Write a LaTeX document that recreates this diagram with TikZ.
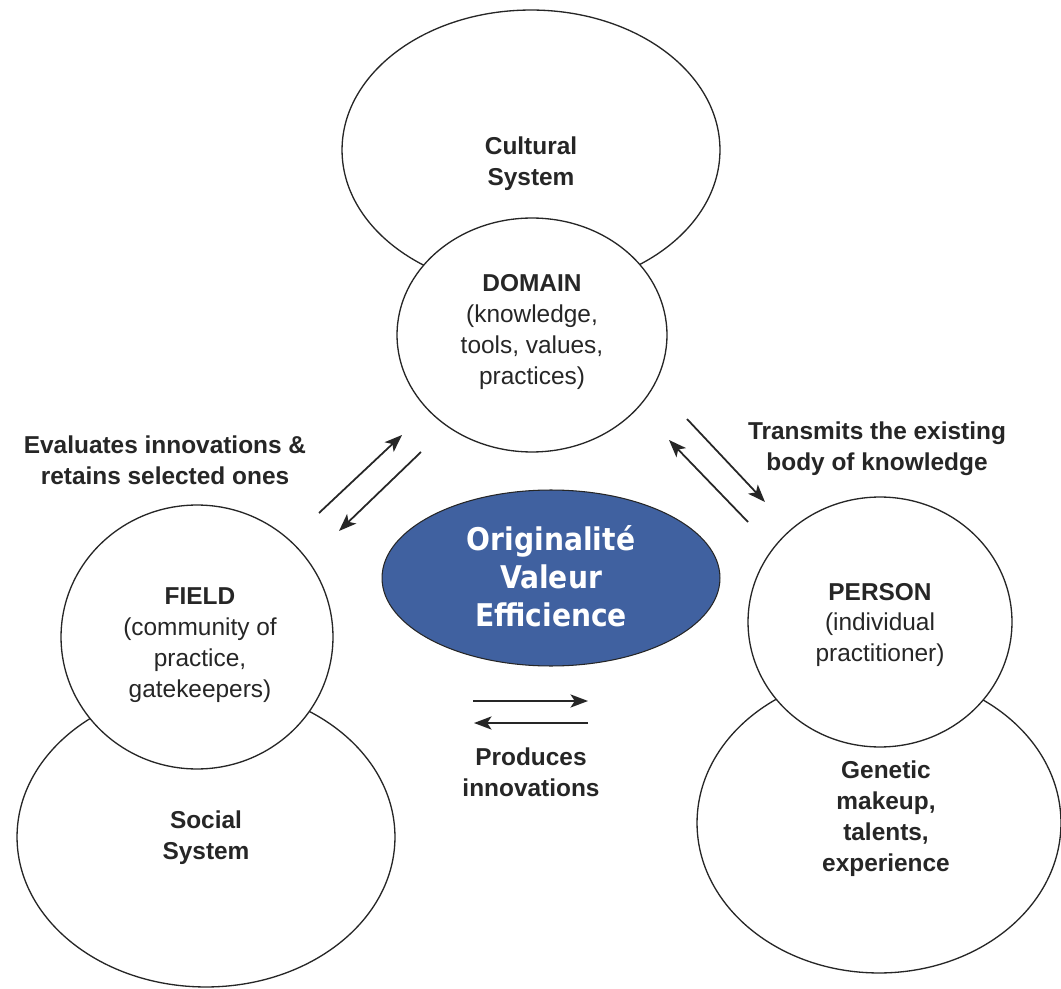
\documentclass[tikz,border=0pt]{standalone}
\usepackage{fontspec}
\setmainfont{Liberation Sans}
\newfontfamily\centerfont[FakeStretch=0.9]{DejaVu Sans}
\usetikzlibrary{shapes.geometric,arrows.meta}
\definecolor{centerblue}{RGB}{64,97,160}
\definecolor{inkgray}{RGB}{38,38,38}
\begin{document}
\begin{tikzpicture}[x=0.02cm,y=-0.02cm,
  sysell/.style={ellipse, draw=inkgray, line width=0.75pt, fill=white, inner sep=0pt},
  txt/.style={align=center, text=inkgray, font=\fontsize{13.9}{17.6}\selectfont, inner sep=0pt},
  btxt/.style={align=center, text=inkgray, font=\fontsize{13.9}{17.6}\selectfont\bfseries, inner sep=0pt},
  flow/.style={draw=inkgray, line width=1pt, -{Stealth[length=10pt,width=7.5pt,inset=2.5pt]}}]
\useasboundingbox (0,0) rectangle (1061,989);
\fill[white] (0,0) rectangle (1061,989);

% outer systems
\node[sysell, minimum width=7.56cm, minimum height=5.6cm] (cultural) at (531,150) {};
\node[sysell, minimum width=7.56cm, minimum height=6.0cm] (social) at (206,837) {};
\node[sysell, minimum width=7.28cm, minimum height=6.0cm] (genetic) at (879,823) {};

% inner circles
\node[sysell, minimum width=5.4cm, minimum height=4.68cm] (domain) at (532,335) {};
\node[sysell, minimum width=5.44cm, minimum height=5.28cm] (field) at (197,637) {};
\node[sysell, minimum width=5.28cm, minimum height=5.0cm] (person) at (880,622) {};

% central ellipse
\node[ellipse, draw=inkgray, line width=0.6pt, fill=centerblue, inner sep=0pt,
      minimum width=6.76cm, minimum height=3.52cm] (center) at (551,578) {};
\node[align=center, text=white, inner sep=0pt,
      font=\centerfont\fontsize{17.8}{21.5}\selectfont\bfseries] (centertxt) at (551,576)
      {Originalité\\Valeur\\Efficience};

% texts
\node[btxt] (culturaltxt) at (531,164) {Cultural\\System};
\node[txt] (domaintxt) at (532,332) {\textbf{DOMAIN}\\(knowledge,\\tools, values,\\practices)};
\node[txt] (fieldtxt) at (200,645) {\textbf{FIELD}\\(community of\\practice,\\gatekeepers)};
\node[btxt] (socialtxt) at (206,838) {Social\\System};
\node[txt] (persontxt) at (880,625) {\textbf{PERSON}\\(individual\\practitioner)};
\node[btxt] (genetictxt) at (886,819) {Genetic\\makeup,\\talents,\\experience};

\node[btxt] (evaltxt) at (165,460) {Evaluates innovations \&\\retains selected ones};
\node[btxt] (transtxt) at (877,449) {Transmits the existing\\body of knowledge};
\node[btxt] (prodtxt) at (531,772) {Produces\\innovations};

% arrow end points
\coordinate (fd1) at (319,513);
\coordinate (fd2) at (402,435);
\coordinate (df1) at (421,452);
\coordinate (df2) at (339,531);
\coordinate (dp1) at (687,419);
\coordinate (dp2) at (765,502);
\coordinate (pd1) at (748,522);
\coordinate (pd2) at (669,440);
\coordinate (pf1) at (473,701);
\coordinate (pf2) at (588,701);
\coordinate (fp1) at (588,723);
\coordinate (fp2) at (474,723);

\draw[flow] (fd1) -- (fd2);
\draw[flow] (df1) -- (df2);
\draw[flow] (dp1) -- (dp2);
\draw[flow] (pd1) -- (pd2);
\draw[flow] (pf1) -- (pf2);
\draw[flow] (fp1) -- (fp2);
\end{tikzpicture}
\end{document}
